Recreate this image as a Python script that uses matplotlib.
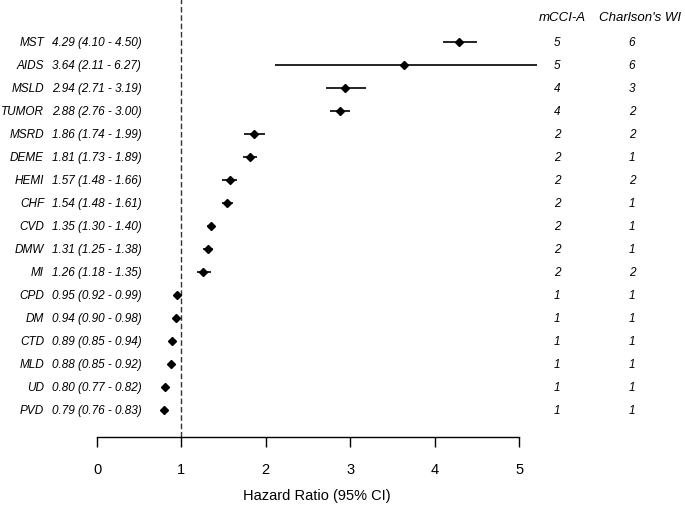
import matplotlib
matplotlib.use("Agg")
import matplotlib.pyplot as plt
from matplotlib.transforms import blended_transform_factory

plt.rcParams["font.family"] = ["Liberation Sans", "DejaVu Sans"]

# data, top row first
names = ["MST", "AIDS", "MSLD", "TUMOR", "MSRD", "DEME", "HEMI", "CHF", "CVD",
         "DMW", "MI", "CPD", "DM", "CTD", "MLD", "UD", "PVD"]
hr = [4.29, 3.64, 2.94, 2.88, 1.86, 1.81, 1.57, 1.54, 1.35, 1.31, 1.26,
      0.95, 0.94, 0.89, 0.88, 0.80, 0.79]
lo = [4.10, 2.11, 2.71, 2.76, 1.74, 1.73, 1.48, 1.48, 1.30, 1.25, 1.18,
      0.92, 0.90, 0.85, 0.85, 0.77, 0.76]
hi = [4.50, 6.27, 3.19, 3.00, 1.99, 1.89, 1.66, 1.61, 1.40, 1.38, 1.35,
      0.99, 0.98, 0.94, 0.92, 0.82, 0.83]
mcci_a = [5, 5, 4, 4, 2, 2, 2, 2, 2, 2, 2, 1, 1, 1, 1, 1, 1]
charlson = [6, 6, 3, 2, 2, 1, 2, 1, 1, 1, 2, 1, 1, 1, 1, 1, 1]
xticks = [0, 1, 2, 3, 4, 5]

W, H = 685, 510
fig = plt.figure(figsize=(W / 100, H / 100), dpi=100)
# axes from x px 97..537, y px 0..438
ax = fig.add_axes([97 / W, (H - 438) / H, 440 / W, 438 / H])
n = len(names)
ys = [n - 1 - i for i in range(n)]
ax.set_xlim(0, 5.213)
ax.set_ylim(-27 / 23, n - 1 + 43 / 23)

for y, h, l, u in zip(ys, hr, lo, hi):
    ax.plot([l, u], [y, y], color="black", lw=1.2, solid_capstyle="butt")
ax.plot(hr, ys, "D", color="black", ms=4.4, ls="none", zorder=3)

ax.axvline(1, color="#333333", lw=1.0, ls=(0, (4, 2)))

for s in ["top", "right", "left"]:
    ax.spines[s].set_visible(False)
ax.spines["bottom"].set_bounds(0, 5)
ax.spines["bottom"].set_linewidth(1.0)
ax.set_yticks([])
ax.set_xticks(xticks)
ax.tick_params(axis="x", direction="out", length=7, width=1.0, pad=11,
               labelsize=10.5)
ax.set_xlabel("Hazard Ratio (95% CI)", fontsize=10.5, labelpad=9)

tr = blended_transform_factory(fig.transFigure, ax.transData)
for y, nm, h, l, u, a, c in zip(ys, names, hr, lo, hi, mcci_a, charlson):
    ax.text(44 / W, y, nm, transform=tr, ha="right", va="center",
            style="italic", fontsize=8.5)
    ax.text(52 / W, y, f"{h:.2f} ({l:.2f} - {u:.2f})", transform=tr,
            ha="left", va="center", style="italic", fontsize=8.5)
    ax.text(557 / W, y, str(a), transform=tr, ha="center", va="center",
            style="italic", fontsize=8.5)
    ax.text(632 / W, y, str(c), transform=tr, ha="center", va="center",
            style="italic", fontsize=8.5)

fig.text(562 / W, 1 - 18 / H, "mCCI-A", ha="center", va="center",
         style="italic", fontsize=9.5)
fig.text(640 / W, 1 - 18 / H, "Charlson's WI", ha="center", va="center",
         style="italic", fontsize=9.5)

fig.savefig("out.png", dpi=100)
